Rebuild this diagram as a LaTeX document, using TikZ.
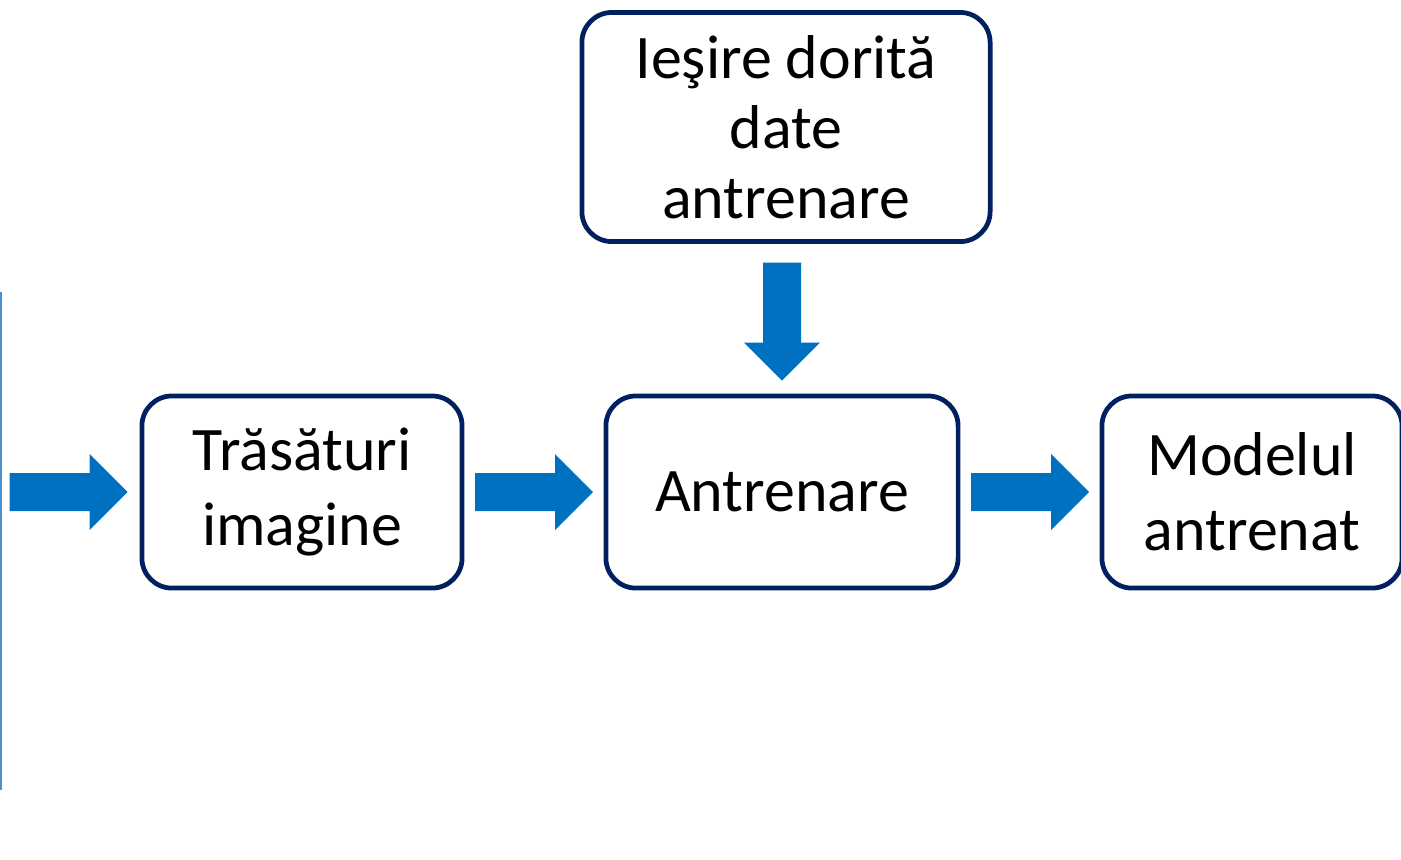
\documentclass[tikz,border=0pt]{standalone}
\usepackage{fontspec}
\setmainfont{Carlito}
\usepackage{tikz}
\usetikzlibrary{positioning, calc}
\definecolor{boxnavy}{HTML}{002060}
\definecolor{arrowblue}{HTML}{0070C0}
\definecolor{edgeblue}{HTML}{4A90D0}

\tikzset{
  stagebox/.style={draw=boxnavy, line width=1.35pt, fill=white, rounded corners=0.3cm,
    align=center, inner sep=0pt, font=\fontsize{17.6pt}{21.3pt}\selectfont},
  pics/blockarrow/.style={code={
    \fill[arrowblue] (-59,-19) -- (21,-19) -- (21,-38) -- (59,0) -- (21,38) -- (21,19) -- (-59,19) -- cycle;
  }}
}

\begin{document}
\begin{tikzpicture}[x=0.01cm, y=-0.01cm]
\useasboundingbox (0,0) rectangle (1401,859);
% left edge
\draw[edgeblue, line width=0.6pt] (1,292) -- (1,790);
% boxes
\node[stagebox, minimum width=4.08cm, minimum height=2.29cm, font=\fontsize{17.6pt}{19.9pt}\selectfont] (target) at (786,127) {Ieşire dorită\\date\\antrenare};
\node[stagebox, minimum width=3.2cm, minimum height=1.92cm] (feat) at (302,492) {Trăsături\\imagine};
\node[stagebox, minimum width=3.52cm, minimum height=1.92cm] (train) at (782,492) {Antrenare};
\node[stagebox, minimum width=3.0cm, minimum height=1.92cm] (model) at (1252,492) {Modelul\\antrenat};
% arrows
\pic at ($(feat.west)+(-71,0)$) {blockarrow};
\pic at ($(feat.east)!0.5!(train.west)$) {blockarrow};
\pic at ($(train.east)!0.5!(model.west)$) {blockarrow};
\pic[rotate=-90] at ($(train.north)+(0,-72)$) {blockarrow};
\end{tikzpicture}
\end{document}
